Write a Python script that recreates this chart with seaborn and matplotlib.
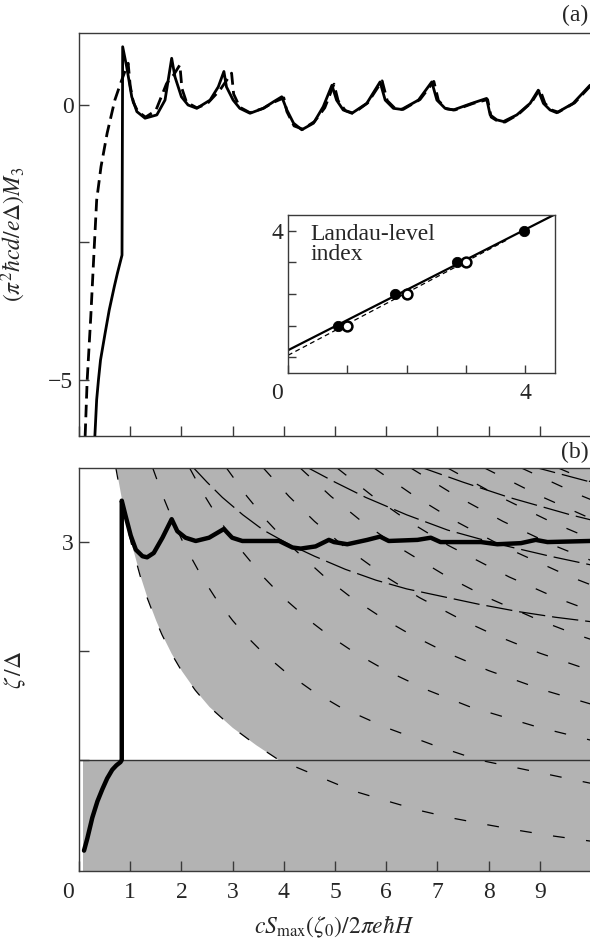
import numpy as np
import pandas as pd
import matplotlib
matplotlib.use("Agg")
import matplotlib.pyplot as plt
import matplotlib.transforms as mtransforms
import seaborn as sns

# ---------------- data ----------------
# panel (a): magnetization, solid and dashed
m_solid_x = [0.31, 0.345, 0.38, 0.42, 0.51, 0.59, 0.69, 0.75, 0.84, 0.853,
             0.93, 1.03, 1.13, 1.29, 1.52, 1.68, 1.81,
             1.875, 2.0, 2.13, 2.30, 2.56, 2.72, 2.83,
             2.88, 3.01, 3.14, 3.34, 3.6, 3.8, 3.96,
             4.06, 4.19, 4.35, 4.58, 4.77, 4.94,
             5.03, 5.16, 5.33, 5.62, 5.88,
             5.98, 6.14, 6.30, 6.63, 6.89,
             6.99, 7.15, 7.31, 7.67, 7.96,
             8.03, 8.16, 8.29, 8.55, 8.81, 8.97,
             9.07, 9.2, 9.33, 9.65, 9.98]
m_solid_y = [-6.02, -5.36, -5.0, -4.64, -4.15, -3.73, -3.3, -3.06, -2.73, 1.06,
             0.70, 0.15, -0.12, -0.24, -0.18, 0.09, 0.85,
             0.51, 0.15, 0.0, -0.06, 0.09, 0.33, 0.61,
             0.33, 0.09, -0.06, -0.15, -0.06, 0.06, 0.15,
             -0.09, -0.33, -0.45, -0.33, -0.03, 0.36,
             0.09, -0.09, -0.15, 0.03, 0.42,
             0.09, -0.06, -0.08, 0.09, 0.42,
             0.09, -0.06, -0.09, 0.03, 0.12,
             -0.18, -0.27, -0.30, -0.18, 0.03, 0.27,
             0.03, -0.09, -0.14, 0.03, 0.36]
m_dash_x = [0.12, 0.16, 0.23, 0.29, 0.345, 0.43, 0.55, 0.70, 0.81, 0.9, 0.96,
            1.0, 1.06, 1.15, 1.3, 1.5, 1.71, 1.85, 1.97,
            2.01, 2.1, 2.3, 2.5, 2.75, 2.98,
            3.02, 3.14, 3.34, 3.6, 3.8, 4.0,
            4.06, 4.2, 4.37, 4.6, 4.8, 4.98,
            5.06, 5.2, 5.36, 5.64, 5.92,
            6.02, 6.17, 6.33, 6.66, 6.93,
            7.02, 7.18, 7.34, 7.7, 7.98,
            8.05, 8.19, 8.32, 8.58, 8.84, 9.0,
            9.1, 9.23, 9.36, 9.68, 9.98]
m_dash_y = [-6.02, -5.0, -3.85, -2.73, -1.73, -1.12, -0.51, 0.09, 0.39, 0.62, 0.76,
            0.35, 0.05, -0.12, -0.22, -0.1, 0.39, 0.55, 0.73,
            0.3, 0.05, -0.05, 0.02, 0.27, 0.58,
            0.2, -0.04, -0.14, -0.06, 0.05, 0.13,
            -0.12, -0.38, -0.44, -0.3, -0.05, 0.38,
            0.08, -0.1, -0.15, 0.04, 0.44,
            0.08, -0.06, -0.08, 0.1, 0.43,
            0.08, -0.07, -0.09, 0.03, 0.1,
            -0.22, -0.3, -0.31, -0.17, 0.05, 0.29,
            0.03, -0.09, -0.13, 0.04, 0.34]

# inset: Landau-level index
inset_filled_x = [0.84, 1.81, 2.85, 3.97]
inset_filled_y = [1, 2, 3, 4]
inset_open_x = [1.0, 2.0, 3.0]
inset_open_y = [1, 2, 3]
inset_solid_x = [0.0, 4.5]
inset_solid_y = [0.22, 4.52]
inset_dash_x = [0.0, 3.7]
inset_dash_y = [0.06, 3.72]

# panel (b): chemical potential
zeta_x = [0.098, 0.163, 0.26, 0.36, 0.455, 0.55, 0.65, 0.73, 0.81, 0.835, 0.835,
          0.91, 1.01, 1.11, 1.24, 1.33, 1.46, 1.63, 1.81,
          1.92, 2.08, 2.28, 2.54, 2.83,
          2.99, 3.19, 3.91, 4.17, 4.33, 4.62, 4.88,
          4.98, 5.24, 5.63, 5.88, 6.05, 6.61, 6.87,
          7.06, 7.85, 8.17, 8.63, 8.92, 9.15, 9.98]
zeta_y = [0.167, 0.28, 0.47, 0.62, 0.73, 0.83, 0.91, 0.95, 0.98, 1.0, 3.38,
          3.24, 3.06, 2.93, 2.87, 2.86, 2.90, 3.04, 3.21,
          3.10, 3.04, 3.01, 3.04, 3.12,
          3.04, 3.01, 3.01, 2.95, 2.94, 2.96, 3.02,
          3.0, 2.98, 3.02, 3.05, 3.01, 3.02, 3.04,
          3.0, 3.0, 2.98, 2.99, 3.02, 3.0, 3.01]

# lowest Landau-level edge (also the grey boundary) and the upper-edge family
edge_a_x = [0.72, 0.82, 0.92, 1.03, 1.2, 1.33, 1.5, 1.62, 1.8, 2.0, 2.27, 2.54, 2.99, 3.45,
            3.9, 4.26, 4.87, 5.36, 6.0, 6.66, 7.3, 7.97, 8.62, 9.28, 9.98]
edge_a_z = [3.68, 3.42, 3.19, 2.97, 2.68, 2.49, 2.28, 2.15, 1.98, 1.82, 1.64, 1.49, 1.30, 1.14,
            1.0, 0.93, 0.81, 0.715, 0.625, 0.535, 0.465, 0.405, 0.35, 0.30, 0.255]
edge_b_x = [2.2, 2.5, 2.8, 3.2, 3.6, 4.1, 4.6, 5.2, 5.8, 6.4, 7.1, 7.8, 8.6, 9.3, 9.98]
edge_b_z = [3.70, 3.55, 3.41, 3.25, 3.11, 2.98, 2.87, 2.75, 2.65, 2.57, 2.50, 2.43, 2.36, 2.31, 2.27]
levels_a = [1, 2, 3, 4, 5, 6, 7, 8, 9, 10, 11, 12, 13]
levels_b = [1, 2, 3, 4]

# ---------------- style ----------------
sns.set_theme(style="white")
plt.rcParams["font.family"] = ["Liberation Serif", "DejaVu Serif"]
plt.rcParams["mathtext.fontset"] = "stix"
plt.rcParams["lines.scale_dashes"] = False
plt.rcParams["axes.edgecolor"] = "#3a3a3a"
plt.rcParams["axes.linewidth"] = 1.0
FS = 17
SPINE = "#3a3a3a"

fig = plt.figure(figsize=(5.9, 9.46), dpi=100)
W, H = 590, 946


def ax_rect(l, t, r, b):
    return [l / W, 1 - b / H, (r - l) / W, (b - t) / H]


axA = fig.add_axes(ax_rect(79, 33, 590, 436))
axB = fig.add_axes(ax_rect(79, 468, 590, 871))
axI = fig.add_axes(ax_rect(288, 215, 555, 373))

XMAX = 9.98
for ax in (axA, axB):
    ax.set_xlim(0, XMAX)
    ax.spines["right"].set_visible(False)
    for s in ("left", "top", "bottom"):
        ax.spines[s].set_color(SPINE)
        ax.spines[s].set_linewidth(1.0)
    ax.tick_params(direction="in", length=7.5, width=1.0, color=SPINE,
                   labelsize=FS, left=True, bottom=True, top=False, right=False)
    ax.set_facecolor("white")
    ax.set_xticks(range(0, 10))

# ---------------- panel (a) ----------------
axA.set_ylim(-6.02, 1.31)
sns.lineplot(x=m_solid_x, y=m_solid_y, sort=False, estimator=None, ax=axA,
             color="black", lw=2.0, zorder=3)
axA.plot(m_dash_x, m_dash_y, color="black", lw=2.0, linestyle=(0, (9, 4.5)), zorder=2)
axA.set_yticks([-5, -2.5, 0])
axA.set_yticklabels(["\u22125", "", "0"])
axA.set_xticklabels([])
axA.tick_params(axis="y", pad=4)
axA.set_ylabel(r"$(\pi^2\hbar cd/e\Delta)M_3$", fontsize=FS)
axA.yaxis.set_label_coords(-0.10, 0.5)

# inset
axI.set_xlim(0, 4.5)
axI.set_ylim(-0.5, 4.5)
for s in axI.spines.values():
    s.set_color(SPINE)
    s.set_linewidth(1.0)
axI.plot(inset_solid_x, inset_solid_y, color="black", lw=1.6, zorder=2)
axI.plot(inset_dash_x, inset_dash_y, color="black", lw=0.9, linestyle=(0, (3.5, 2.5)), zorder=2)
sns.scatterplot(x=inset_filled_x, y=inset_filled_y, ax=axI, s=55, color="black",
                edgecolor="black", zorder=4)
axI.scatter(inset_open_x, inset_open_y, s=50, facecolor="white", edgecolor="black",
            linewidth=1.8, zorder=4)
axI.set_xticks([0, 1, 2, 3, 4])
axI.set_xticklabels(["0", "", "", "", "4"])
axI.set_yticks([0, 1, 2, 3, 4])
axI.set_yticklabels(["", "", "", "", "4"])
axI.tick_params(direction="in", length=6, width=1.0, color=SPINE, labelsize=FS,
                left=True, bottom=True, top=False, right=False)
axI.tick_params(axis="x", pad=7)
axI.tick_params(axis="y", pad=3)
off = mtransforms.ScaledTranslation(-11 / 100, 0, fig.dpi_scale_trans)
lbl0 = axI.get_xticklabels()[0]
lbl0.set_transform(lbl0.get_transform() + off)
axI.text(0.38, 4.22, "Landau-level\nindex", fontsize=FS, va="top", ha="left",
         linespacing=0.95)
axI.set_facecolor("white")

# ---------------- panel (b) ----------------
YTOP = 3.68
axB.set_ylim(-0.02, YTOP)
GREY = "#b3b3b3"
axB.fill_between([0.08, XMAX], -0.02, 1.0, color=GREY, lw=0, zorder=0)
axB.fill_between(edge_a_x, edge_a_z, YTOP, color=GREY, lw=0, zorder=0)
for k in levels_a:
    axB.plot(np.array(edge_a_x) * k, edge_a_z, color="black", lw=0.9,
             linestyle=(0, (8.5, 15.5)), zorder=1)
for k in levels_b:
    axB.plot(np.array(edge_b_x) * k, edge_b_z, color="black", lw=0.9,
             linestyle=(0, (19, 5)), zorder=1)
axB.axhline(1.0, color="#333333", lw=1.0, zorder=2)
sns.lineplot(x=zeta_x, y=zeta_y, sort=False, estimator=None, ax=axB,
             color="black", lw=3.2, zorder=3)
axB.set_yticks([1, 2, 3])
axB.set_yticklabels(["", "", "3"])
axB.tick_params(axis="y", pad=4)
axB.tick_params(axis="x", pad=8)
axB.set_xticklabels([str(i) for i in range(0, 10)])
lb = axB.get_xticklabels()[0]
lb.set_transform(lb.get_transform() + off)
axB.set_ylabel(r"$\zeta\,/\Delta$", fontsize=FS)
axB.yaxis.set_label_coords(-0.10, 0.5)
axB.set_xlabel(r"$cS_{\rm max}(\zeta_0)/2\pi e\hbar H$", fontsize=FS)
axB.xaxis.set_label_coords(0.5, -0.105)

fig.text(0.997, 1 - 15 / H, "(a)", ha="right", va="center", fontsize=FS)
fig.text(0.997, 1 - 452 / H, "(b)", ha="right", va="center", fontsize=FS)

fig.savefig("out.png", dpi=100)
